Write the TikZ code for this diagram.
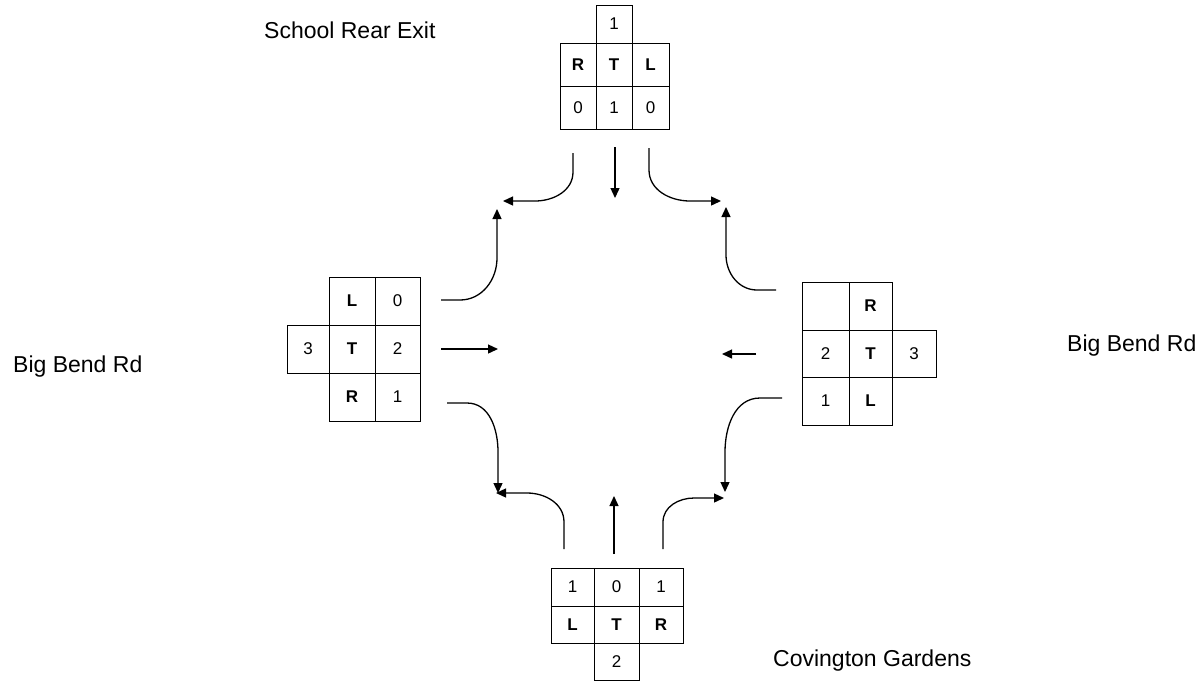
\documentclass[tikz,border=0pt]{standalone}
\usepackage{fontspec}
\setmainfont{Liberation Sans}
\usetikzlibrary{arrows.meta}
\tikzset{
  cellbox/.style={draw, line width=1pt, inner sep=0pt, outer sep=0pt, font=\fontsize{17}{20}\selectfont},
  lbl/.style={anchor=base west, inner sep=0pt, font=\fontsize{23}{27}\selectfont},
  conn/.style={line width=1.3pt, -{Triangle[length=10pt,width=9pt]}},
}
% #1 name, #2 x1, #3 y1, #4 x2, #5 y2, #6 text
\newcommand\mkcell[6]{%
  \node[cellbox, minimum width={(#4-#2)*1pt}, minimum height={(#5-#3)*1pt}] (#1) at ({(#2+#4)/2},{(#3+#5)/2}) {#6};}
\begin{document}
\begin{tikzpicture}[x=1pt,y=-1pt]
\useasboundingbox (0,0) rectangle (1201,681);

% labels
\node[lbl] (lSchool) at (264,38) {School Rear Exit};
\node[lbl] (lBBL) at (13,372) {Big Bend Rd};
\node[lbl] (lBBR) at (1067,351) {Big Bend Rd};
\node[lbl] (lCov) at (773,666) {Covington Gardens};

% top grid
\mkcell{tA}{596}{5}{632}{43}{1}
\mkcell{tR}{560}{43}{596}{86}{\textbf{R}}
\mkcell{tT}{596}{43}{632}{86}{\textbf{T}}
\mkcell{tL}{632}{43}{669}{86}{\textbf{L}}
\mkcell{tR0}{560}{86}{596}{129}{0}
\mkcell{tT1}{596}{86}{632}{129}{1}
\mkcell{tL0}{632}{86}{669}{129}{0}

% left grid
\mkcell{lL}{329}{277}{375}{325}{\textbf{L}}
\mkcell{lL0}{375}{277}{420}{325}{0}
\mkcell{lA}{287}{325}{329}{373}{3}
\mkcell{lT}{329}{325}{375}{373}{\textbf{T}}
\mkcell{lT2}{375}{325}{420}{373}{2}
\mkcell{lR}{329}{373}{375}{421}{\textbf{R}}
\mkcell{lR1}{375}{373}{420}{421}{1}

% right grid
\mkcell{rE}{802}{282}{849}{330}{}
\mkcell{rR}{849}{282}{892}{330}{\textbf{R}}
\mkcell{rT2}{802}{330}{849}{377}{2}
\mkcell{rT}{849}{330}{892}{377}{\textbf{T}}
\mkcell{rA}{892}{330}{936}{377}{3}
\mkcell{rL1}{802}{377}{849}{425}{1}
\mkcell{rL}{849}{377}{892}{425}{\textbf{L}}

% bottom grid
\mkcell{bL1}{551}{568}{594}{606}{1}
\mkcell{bT0}{594}{568}{639}{606}{0}
\mkcell{bR1}{639}{568}{683}{606}{1}
\mkcell{bL}{551}{606}{594}{643}{\textbf{L}}
\mkcell{bT}{594}{606}{639}{643}{\textbf{T}}
\mkcell{bR}{639}{606}{683}{643}{\textbf{R}}
\mkcell{bA}{594}{643}{639}{680}{2}

% connector end points
\coordinate (s1) at (573,153); \coordinate (e1) at (503,201);
\coordinate (s2) at (615,147); \coordinate (e2) at (615,198);
\coordinate (s3) at (649,148); \coordinate (e3) at (721,201);
\coordinate (s4) at (776,290); \coordinate (e4) at (726,207);
\coordinate (s5) at (756,354); \coordinate (e5) at (722,354);
\coordinate (s6) at (782,398); \coordinate (e6) at (725,492);
\coordinate (s7) at (663,549); \coordinate (e7) at (724,498);
\coordinate (s8) at (614,554); \coordinate (e8) at (614,496);
\coordinate (s9) at (564,549); \coordinate (e9) at (496,493);
\coordinate (s10) at (447,403); \coordinate (e10) at (498,493);
\coordinate (s11) at (441,349); \coordinate (e11) at (498,349);
\coordinate (s12) at (441,300); \coordinate (e12) at (497,209);

% connectors
\draw[conn] (s1) -- (573,172) to[out=-90,in=0] (535,201) -- (e1);
\draw[conn] (s2) -- (e2);
\draw[conn] (s3) -- (649,170) to[out=-90,in=180] (690,201) -- (e3);
\draw[conn] (s4) -- (757,290) to[out=180,in=-90] (726,255) -- (e4);
\draw[conn] (s5) -- (e5);
\draw[conn] (s6) -- (760,398) to[out=180,in=90] (725,452) -- (e6);
\draw[conn] (s7) -- (663,522) to[out=90,in=180] (694,498) -- (e7);
\draw[conn] (s8) -- (e8);
\draw[conn] (s9) -- (564,522) to[out=90,in=0] (527,493) -- (e9);
\draw[conn] (s10) -- (467,403) to[out=0,in=90] (498,452) -- (e10);
\draw[conn] (s11) -- (e11);
\draw[conn] (s12) -- (460,300) to[out=0,in=-90] (497,258) -- (e12);
\end{tikzpicture}
\end{document}
